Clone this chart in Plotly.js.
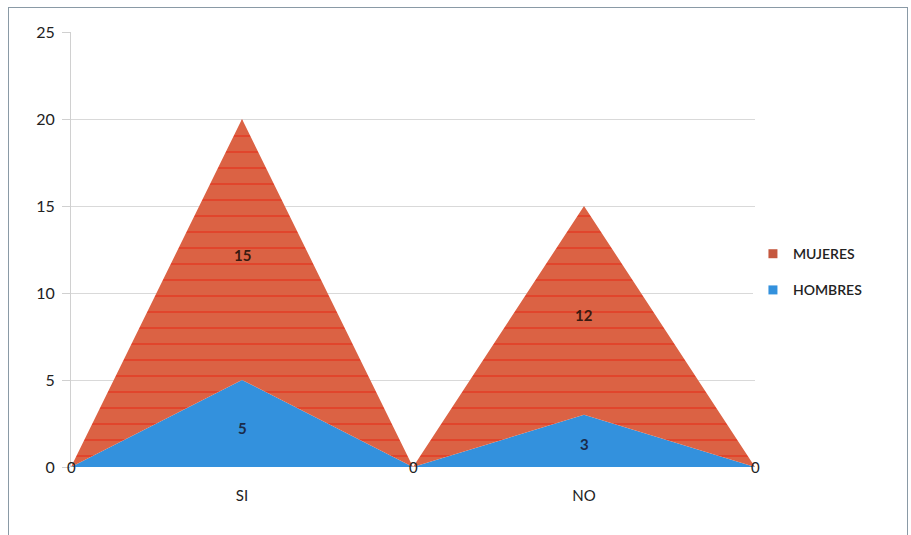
<!DOCTYPE html>
<html><head><meta charset="utf-8">
<script src="https://cdn.plot.ly/plotly-3.0.1.min.js"></script>
<style>
html,body{margin:0;padding:0;background:#fff;}
#wrap{position:relative;width:911px;height:535px;}
#chart{width:911px;height:535px;}
#frame{position:absolute;left:8px;top:7px;width:898px;height:540px;border:1.5px solid #8a9aa6;pointer-events:none;}
</style></head>
<body>
<div id="wrap"><div id="chart"></div><div id="frame"></div></div>
<script>
const categories = ['', 'SI', '', 'NO', ''];
const hombres = [0, 5, 0, 3, 0];
const mujeres = [0, 15, 0, 12, 0];

const xIdx = categories.map((c, i) => i);
const tickIdx = xIdx.filter(i => categories[i] !== '');
const tickTxt = tickIdx.map(i => categories[i]);

const font = "Lato, 'Open Sans', sans-serif";

const traces = [
  {x: xIdx, y: hombres, name: 'HOMBRES', type: 'scatter', mode: 'lines', stackgroup: 'one',
   line: {width: 0, color: '#3391dd'}, fillcolor: '#3391dd', hoverinfo: 'none', showlegend: false},
  {x: xIdx, y: mujeres, name: 'MUJERES', type: 'scatter', mode: 'lines', stackgroup: 'one',
   line: {width: 0, color: '#d95a3c'}, fillcolor: '#d95a3c',
   fillpattern: {shape: '-', fgcolor: '#e2432b', bgcolor: '#db6244', size: 16, solidity: 0.12},
   hoverinfo: 'none', showlegend: false},
  {x: [null], y: [null], name: 'MUJERES', type: 'scatter', mode: 'markers', legendgroup: 'm',
   marker: {symbol: 'square', size: 9, color: '#c5583f'}, hoverinfo: 'none'},
  {x: [null], y: [null], name: 'HOMBRES', type: 'scatter', mode: 'markers', legendgroup: 'h',
   marker: {symbol: 'square', size: 9, color: '#3391dd'}, hoverinfo: 'none'}
];

const ann = [];
xIdx.forEach(i => {
  const h = hombres[i], m = mujeres[i];
  if (h === 0 && m === 0) {
    ann.push({x: i, y: 0, text: '0', showarrow: false, xanchor: 'center', yanchor: 'middle',
      font: {family: font, size: 15, color: '#222'}});
  } else {
    ann.push({x: i, y: h * 0.45, text: '<b>' + h + '</b>', showarrow: false,
      font: {family: font, size: 15, color: '#1a2b4a'}});
    ann.push({x: i, y: h + m * 0.48, text: '<b>' + m + '</b>', showarrow: false,
      font: {family: font, size: 15, color: '#3a1a10'}});
  }
});

const layout = {
  width: 911, height: 535,
  margin: {l: 71, r: 156, t: 32, b: 68},
  paper_bgcolor: '#ffffff', plot_bgcolor: '#ffffff',
  showlegend: true,
  legend: {x: 0.997, y: 0.448, xanchor: 'left', yanchor: 'middle', traceorder: 'grouped',
    font: {family: font, size: 14, color: '#222', weight: 600}, itemwidth: 30, tracegroupgap: 15},
  xaxis: {range: [0, 4], tickvals: tickIdx, ticktext: tickTxt, showgrid: false, zeroline: false,
    showline: false, ticks: '', tickfont: {family: font, size: 15, color: '#222'}, ticklabelstandoff: 18},
  yaxis: {range: [0, 25], dtick: 5, showgrid: true, gridcolor: '#d9d9d9', gridwidth: 1,
    zeroline: false, showline: true, linecolor: '#d0d0d0', ticks: 'outside', ticklen: 8,
    tickcolor: '#d0d0d0', tickfont: {family: font, size: 16, color: '#222'}, ticklabelstandoff: 4},
  annotations: ann
};

Plotly.newPlot('chart', traces, layout, {displayModeBar: false, staticPlot: true});
</script>
</body></html>
